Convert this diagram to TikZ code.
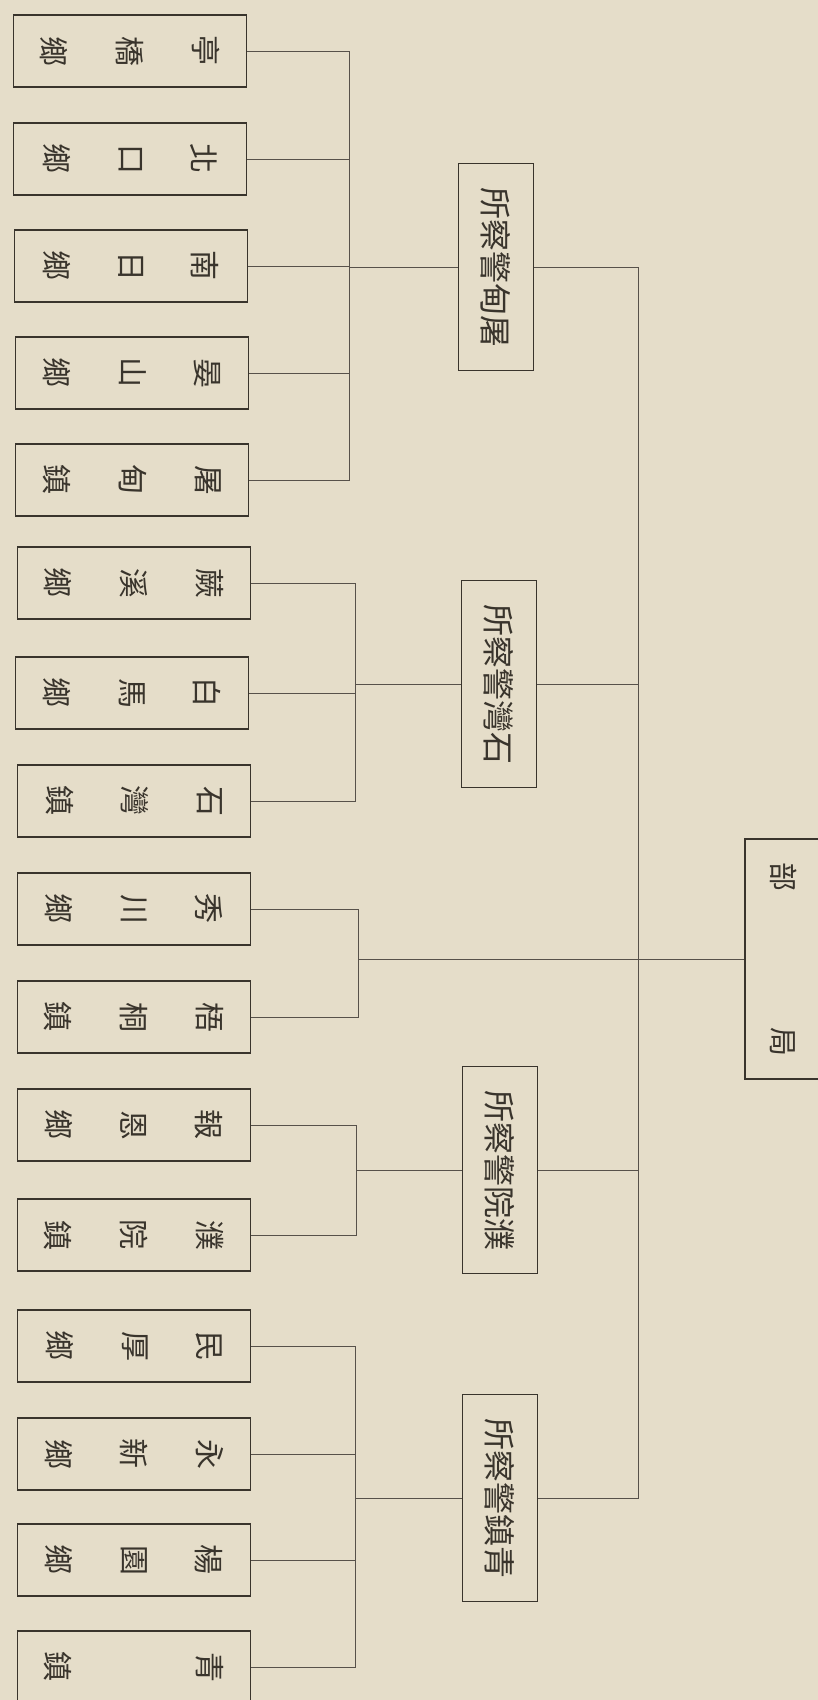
\documentclass[tikz,border=0pt]{standalone}
\usepackage{fontspec}
\usepackage{graphicx}
\usepackage{tikz}

\newfontfamily\cjk{Noto Sans CJK TC}
\definecolor{paper}{HTML}{E5DDC9}
\definecolor{ink}{HTML}{39342C}
\definecolor{wire}{HTML}{57514A}

% one character turned a quarter clockwise
\newcommand{\tc}[1]{\rotatebox[origin=c]{-90}{#1}}
% the three characters of a township box, read from the right
\newcommand{\leaftext}[3]{\tc{#3}\hspace{48pt}\tc{#2}\hspace{48pt}\tc{#1}}

\begin{document}
\begin{tikzpicture}[x=1pt,y=-1pt,
    leaf/.style={draw=ink,line width=1.1pt,minimum width=233pt,minimum height=72pt,inner sep=0pt,text=ink,font=\cjk\fontsize{30pt}{30pt}\selectfont},
    office/.style={draw=ink,line width=1.1pt,minimum width=75pt,minimum height=207pt,inner sep=0pt,text=ink,font=\cjk\fontsize{32pt}{32pt}\selectfont},
    link/.style={draw=wire,line width=0.8pt}]
      \fill[paper] (0,0) rectangle (818,1700);
      \useasboundingbox (0,0) rectangle (818,1700);

      \node[leaf](tingqiao) at (130,51) {\leaftext{亭}{橋}{鄉}};
      \node[leaf](beikou) at (130,159) {\leaftext{北}{口}{鄉}};
      \node[leaf](nanri) at (131,266) {\leaftext{南}{日}{鄉}};
      \node[leaf](yanshan) at (132,373) {\leaftext{晏}{山}{鄉}};
      \node[leaf](tudianzhen) at (132,480) {\leaftext{屠}{甸}{鎮}};
      \node[leaf](juexi) at (134,583) {\leaftext{蕨}{溪}{鄉}};
      \node[leaf](baima) at (132,693) {\leaftext{白}{馬}{鄉}};
      \node[leaf](shiwanzhen) at (134,801) {\leaftext{石}{灣}{鎮}};
      \node[leaf](xiuchuan) at (134,909) {\leaftext{秀}{川}{鄉}};
      \node[leaf](wutong) at (134,1017) {\leaftext{梧}{桐}{鎮}};
      \node[leaf](baoen) at (134,1125) {\leaftext{報}{恩}{鄉}};
      \node[leaf](puyuanzhen) at (134,1235) {\leaftext{濮}{院}{鎮}};
      \node[leaf](minhou) at (134,1346) {\leaftext{民}{厚}{鄉}};
      \node[leaf](yongxin) at (134,1454) {\leaftext{永}{新}{鄉}};
      \node[leaf](yangyuan) at (134,1560) {\leaftext{楊}{園}{鄉}};
      \node[leaf](qingzhen) at (134,1667) {\leaftext{青}{\phantom{鎮}}{鎮}};

      \node[office](tudian) at (496,267) {\tc{所察警甸屠}};
      \node[office](shiwan) at (499,684) {\tc{所察警灣石}};
      \node[office](puyuan) at (500,1170) {\tc{所察警院濮}};
      \node[office](qing) at (500,1498) {\tc{所察警鎮青}};

      \node[office,minimum width=78pt,minimum height=240pt,font=\cjk\fontsize{29pt}{29pt}\selectfont](hq) at (784,959) {\tc{部\hspace{136pt}局}};

      \coordinate (fork1) at (349,267);
      \coordinate (fork2) at (355,684);
      \coordinate (fork3) at (358,959);
      \coordinate (fork4) at (356,1170);
      \coordinate (fork5) at (355,1498);
      \coordinate (hub) at (638,959);

      % townships to their police office
      \draw[link] (tingqiao.east) -| (fork1);
      \draw[link] (beikou.east) -| (fork1);
      \draw[link] (nanri.east) -| (fork1);
      \draw[link] (yanshan.east) -| (fork1);
      \draw[link] (tudianzhen.east) -| (fork1);
      \draw[link] (fork1) -- (tudian.west);

      \draw[link] (juexi.east) -| (fork2);
      \draw[link] (baima.east) -| (fork2);
      \draw[link] (shiwanzhen.east) -| (fork2);
      \draw[link] (fork2) -- (shiwan.west);

      \draw[link] (xiuchuan.east) -| (fork3);
      \draw[link] (wutong.east) -| (fork3);
      \draw[link] (fork3) -- (hub);

      \draw[link] (baoen.east) -| (fork4);
      \draw[link] (puyuanzhen.east) -| (fork4);
      \draw[link] (fork4) -- (puyuan.west);

      \draw[link] (minhou.east) -| (fork5);
      \draw[link] (yongxin.east) -| (fork5);
      \draw[link] (yangyuan.east) -| (fork5);
      \draw[link] (qingzhen.east) -| (fork5);
      \draw[link] (fork5) -- (qing.west);

      % offices to the head office
      \draw[link] (tudian.east) -| (hub);
      \draw[link] (shiwan.east) -| (hub);
      \draw[link] (puyuan.east) -| (hub);
      \draw[link] (qing.east) -| (hub);
      \draw[link] (hub) -- (hq.west);
    \end{tikzpicture}
\end{document}
